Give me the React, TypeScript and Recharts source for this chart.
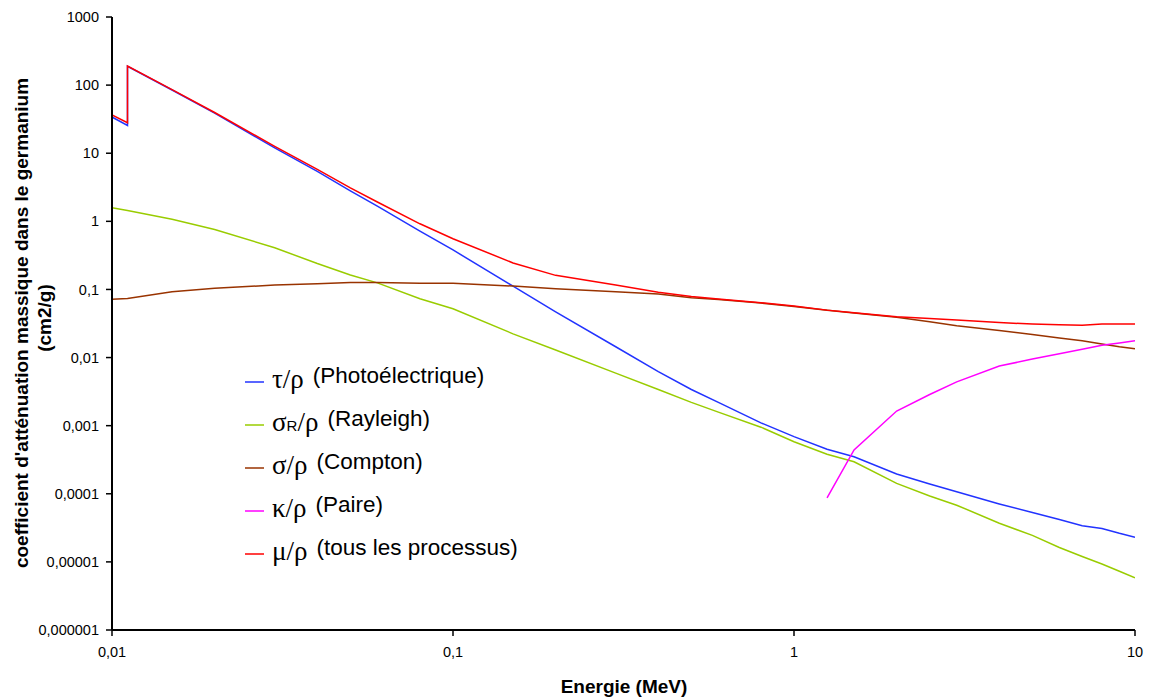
import React from 'react';
import { LineChart, Line, XAxis, YAxis, Legend } from 'recharts';

// energies in MeV (K edge of Ge at 0.011103 appears twice: below / above)
const energies = [
  0.01, 0.011103, 0.011103, 0.015, 0.02, 0.03, 0.04, 0.05, 0.06, 0.08, 0.1, 0.15, 0.2, 0.3, 0.4, 0.5,
  0.6, 0.8, 1, 1.25, 1.5, 2, 2.5, 3, 4, 5, 6, 7, 8, 9, 10,
];

const photo = [
  34, 25.5, 189, 84.7, 38.7, 12.0, 5.4, 2.8, 1.67, 0.72, 0.38, 0.112, 0.047, 0.0144, 0.0062, 0.0034,
  0.0022, 0.0011, 0.00069, 0.00045, 0.00035, 0.000195, 0.000139, 0.000107, 0.000071, 0.000053, 0.000042,
  0.000034, 0.000031, 0.0000263, 0.000023,
];

const rayleigh = [
  1.58, 1.44, 1.44, 1.07, 0.76, 0.41, 0.24, 0.163, 0.125, 0.073, 0.052, 0.0223, 0.0129, 0.0059, 0.0034,
  0.0022, 0.00158, 0.00095, 0.00058, 0.00038, 0.000295, 0.000142, 0.000093, 0.000068, 0.000037, 0.0000245,
  0.0000163, 0.000012, 0.0000093, 0.0000073, 0.00000585,
];

const compton = [
  0.0716, 0.0735, 0.0735, 0.0925, 0.104, 0.116, 0.121, 0.126, 0.126, 0.123, 0.123, 0.112, 0.102, 0.0925,
  0.0855, 0.0755, 0.071, 0.063, 0.056, 0.0495, 0.045, 0.039, 0.0335, 0.0293, 0.025, 0.0218, 0.0194, 0.0177,
  0.0158, 0.0144, 0.0135,
];

const pair = [
  null, null, null, null, null, null, null, null, null, null, null, null, null, null, null, null, null,
  null, null, 0.000087, 0.00044, 0.00164, 0.00287, 0.0044, 0.0075, 0.0095, 0.0114, 0.0132, 0.0152, 0.0164,
  0.0177,
];

const total = [
  36.4, 28, 190.5, 86, 39.6, 12.6, 5.8, 3.09, 1.92, 0.92, 0.555, 0.245, 0.161, 0.116, 0.091, 0.0785,
  0.0721, 0.064, 0.0573, 0.0497, 0.0454, 0.0397, 0.0375, 0.0355, 0.0326, 0.031, 0.0302, 0.0297, 0.031,
  0.031, 0.031,
];

const xTicks = [0.01, 0.1, 1, 10];
const xTickLabels = ['0,01', '0,1', '1', '10'];
const yTicks = [0.000001, 0.00001, 0.0001, 0.001, 0.01, 0.1, 1, 10, 100, 1000];
const yTickLabels = ['0,000001', '0,00001', '0,0001', '0,001', '0,01', '0,1', '1', '10', '100', '1000'];

const rows = energies.map((e, i) => ({
  e,
  photo: photo[i],
  rayleigh: rayleigh[i],
  compton: compton[i],
  pair: pair[i],
  total: total[i],
}));

const legendItems = [
  { key: 'photo', color: '#2233ff', sym: 'τ/ρ', sub: '', rest: '', desc: '(Photoélectrique)' },
  { key: 'rayleigh', color: '#99cc00', sym: 'σ', sub: 'R', rest: '/ρ', desc: '(Rayleigh)' },
  { key: 'compton', color: '#993300', sym: 'σ/ρ', sub: '', rest: '', desc: '(Compton)' },
  { key: 'pair', color: '#ff00ff', sym: 'κ/ρ', sub: '', rest: '', desc: '(Paire)' },
  { key: 'total', color: '#ff0000', sym: 'μ/ρ', sub: '', rest: '', desc: '(tous les processus)' },
];

const sans = '"Liberation Sans", Arial, sans-serif';
const serif = '"Liberation Serif", "Times New Roman", serif';

function LegendBox() {
  return (
    <svg width={320} height={220}>
      {legendItems.map((it, i) => {
        const y = 22 + i * 43;
        return (
          <g key={it.key}>
            <line x1={2} x2={21} y1={y} y2={y} stroke={it.color} strokeWidth={1.5} />
            <text x={29} y={y + 6} fontSize={27} fontFamily={serif} fill="#000">
              <tspan>{it.sym}</tspan>
              {it.sub && (
                <tspan fontSize={15} fontFamily={sans}>
                  {it.sub}
                </tspan>
              )}
              {it.rest && <tspan>{it.rest}</tspan>}
              <tspan dx={9} dy={-5} fontSize={22.5} fontFamily={sans}>
                {it.desc}
              </tspan>
            </text>
          </g>
        );
      })}
    </svg>
  );
}

function YTitle() {
  return (
    <g fontFamily={sans} fontWeight="bold" fontSize={19} fill="#000">
      <text x={21} y={323} textAnchor="middle" dominantBaseline="central" transform="rotate(-90, 21, 323)">
        coefficient d'atténuation massique dans le germanium
      </text>
      <text x={44} y={318} textAnchor="middle" dominantBaseline="central" transform="rotate(-90, 44, 318)">
        (cm2/g)
      </text>
    </g>
  );
}

function XTitle() {
  return (
    <text x={624} y={693} textAnchor="middle" fontFamily={sans} fontWeight="bold" fontSize={19} fill="#000">
      Energie (MeV)
    </text>
  );
}

const tickStyle = { fontSize: 14.5, fill: '#000', fontFamily: sans };

export default function App() {
  return (
    <div style={{ position: 'absolute', left: 0, top: 0, width: 1149, height: 699, background: '#fff' }}>
      <LineChart width={1149} height={699} data={rows} margin={{ top: 17, right: 14, bottom: 19, left: 40 }}>
        <XAxis
          dataKey="e"
          type="number"
          scale="log"
          domain={[0.01, 10]}
          allowDataOverflow
          ticks={xTicks}
          interval={0}
          tickFormatter={(v) => xTickLabels[xTicks.indexOf(v)]}
          tick={tickStyle}
          tickSize={6}
          tickMargin={11}
          height={50}
          axisLine={{ stroke: '#000', strokeWidth: 2 }}
          tickLine={{ stroke: '#000', strokeWidth: 1.5 }}
          label={{ content: XTitle }}
        />
        <YAxis
          type="number"
          scale="log"
          domain={[0.000001, 1000]}
          allowDataOverflow
          ticks={yTicks}
          interval={0}
          tickFormatter={(v) => yTickLabels[yTicks.indexOf(v)]}
          tick={tickStyle}
          tickSize={6}
          tickMargin={7}
          width={72}
          axisLine={{ stroke: '#000', strokeWidth: 2 }}
          tickLine={{ stroke: '#000', strokeWidth: 1.5 }}
          label={{ content: YTitle }}
        />
        <Legend
          content={() => <LegendBox />}
          layout="vertical"
          align="center"
          verticalAlign="middle"
          wrapperStyle={{ left: 243, top: 360, width: 320, height: 220 }}
        />
        <Line dataKey="photo" stroke="#2233ff" strokeWidth={1.5} dot={false} isAnimationActive={false} />
        <Line dataKey="rayleigh" stroke="#99cc00" strokeWidth={1.5} dot={false} isAnimationActive={false} />
        <Line dataKey="compton" stroke="#993300" strokeWidth={1.5} dot={false} isAnimationActive={false} />
        <Line dataKey="pair" stroke="#ff00ff" strokeWidth={1.5} dot={false} isAnimationActive={false} />
        <Line dataKey="total" stroke="#ff0000" strokeWidth={1.5} dot={false} isAnimationActive={false} />
      </LineChart>
    </div>
  );
}
